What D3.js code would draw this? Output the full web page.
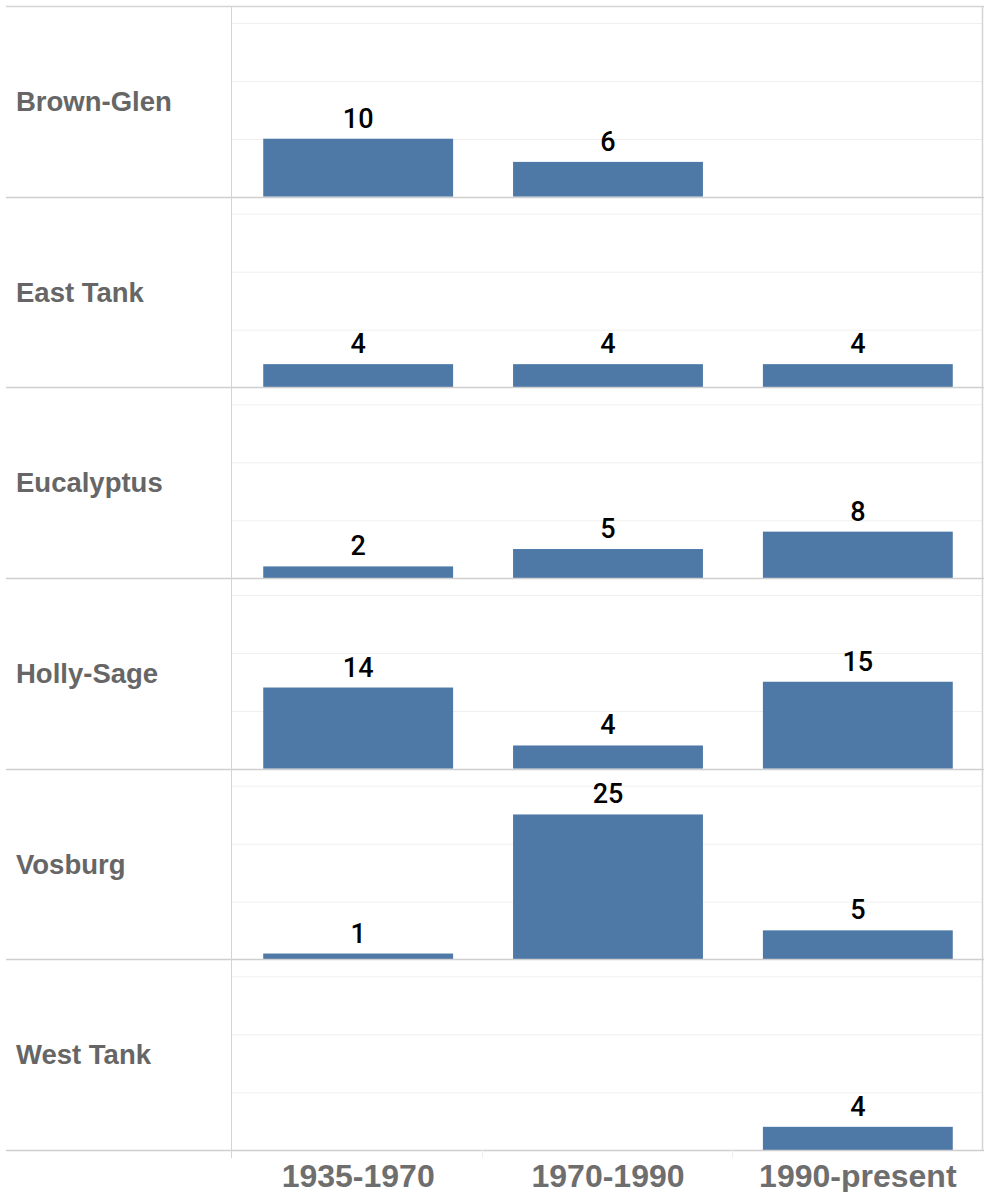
<!DOCTYPE html>
<html>
<head>
<meta charset="utf-8">
<script src="https://cdn.jsdelivr.net/npm/d3@7"></script>
<style>
  html, body { margin: 0; padding: 0; background: #fff; }
  svg { display: block; }
</style>
</head>
<body>
<script>
const regions = ["Brown-Glen", "East Tank", "Eucalyptus", "Holly-Sage", "Vosburg", "West Tank"];
const periods = ["1935-1970", "1970-1990", "1990-present"];
const counts1935 = [10, 4, 2, 14, 1, null];
const counts1970 = [6, 4, 5, 4, 25, null];
const counts1990 = [null, 4, 8, 15, 5, 4];
const gridTicks = [10, 20, 30];

(function () {
const seriesByPeriod = [counts1935, counts1970, counts1990];
const data = [];
regions.forEach((r, i) => {
  periods.forEach((p, j) => {
    const v = seriesByPeriod[j][i];
    if (v != null) data.push({ region: r, period: p, value: v });
  });
});

const W = 984, H = 1192;
const mLeft = 231, mRight = 983, mTop = 6, mBottom = 1150;

const svg = d3.select("body").append("svg").attr("width", W).attr("height", H);

const rowScale = d3.scaleBand().domain(regions).range([mTop, mBottom]);
const x = d3.scaleBand().domain(periods).range([mLeft + 1, mRight + 1]).paddingInner(0.24).paddingOuter(0.125);
const colScale = d3.scaleBand().domain(periods).range([mLeft, mRight]);
const rowH = rowScale.bandwidth();
const y = d3.scaleLinear().domain([0, 32.9]).range([rowH, 0]);

// rows
const rows = svg.selectAll("g.row").data(regions).join("g")
  .attr("class", "row")
  .attr("transform", d => `translate(0,${rowScale(d)})`);

// gridlines
rows.each(function() {
  const g = d3.select(this);
  g.selectAll("line.grid").data(gridTicks).join("line")
    .attr("class", "grid")
    .attr("x1", mLeft).attr("x2", mRight)
    .attr("y1", d => Math.round(y(d)) + 0.5).attr("y2", d => Math.round(y(d)) + 0.5)
    .attr("stroke", "#efefef").attr("stroke-width", 1);
});

// row labels
rows.append("text")
  .attr("x", 16).attr("y", rowH / 2)
  .attr("dy", "0.35em")
  .attr("font-family", "'Liberation Sans', Arial, sans-serif")
  .attr("font-weight", "bold")
  .attr("font-size", 27.5)
  .attr("fill", "#666666")
  .text(d => d);

// bars
const bars = svg.append("g");
bars.selectAll("rect").data(data).join("rect")
  .attr("x", d => x(d.period))
  .attr("width", x.bandwidth())
  .attr("y", d => rowScale(d.region) + y(d.value))
  .attr("height", d => rowH - y(d.value))
  .attr("fill", "#4e79a7");

bars.selectAll("text").data(data).join("text")
  .attr("x", d => x(d.period) + x.bandwidth() / 2)
  .attr("y", d => rowScale(d.region) + y(d.value) - 11)
  .attr("text-anchor", "middle")
  .attr("font-family", "Roboto, 'Liberation Sans', sans-serif")
  .attr("font-weight", 500)
  .attr("font-size", 27)
  .attr("fill", "#000")
  .text(d => d.value);

// row separators (baselines)
svg.append("g").selectAll("line").data(regions).join("line")
  .attr("x1", 6).attr("x2", W)
  .attr("y1", d => Math.round(rowScale(d) + rowH) + 0.5)
  .attr("y2", d => Math.round(rowScale(d) + rowH) + 0.5)
  .attr("stroke", "#cfcfcf").attr("stroke-width", 1.5);

// top border
svg.append("line").attr("x1", 6).attr("x2", W).attr("y1", mTop + 0.5).attr("y2", mTop + 0.5)
  .attr("stroke", "#d4d4d4").attr("stroke-width", 1.5);

// left axis line and right border
svg.append("line").attr("x1", mLeft + 0.5).attr("x2", mLeft + 0.5).attr("y1", mTop).attr("y2", mBottom + 8)
  .attr("stroke", "#d4d4d4").attr("stroke-width", 1);
svg.append("line").attr("x1", mRight - 0.5).attr("x2", mRight - 0.5).attr("y1", mTop).attr("y2", mBottom)
  .attr("stroke", "#d4d4d4").attr("stroke-width", 1.5);

// column separators in axis area
svg.append("g").selectAll("line").data(periods.slice(1)).join("line")
  .attr("x1", d => Math.round(colScale(d)) + 0.5).attr("x2", d => Math.round(colScale(d)) + 0.5)
  .attr("y1", mBottom).attr("y2", mBottom + 8)
  .attr("stroke", "#eeeeee").attr("stroke-width", 1);

// x axis labels
const xAxis = d3.axisBottom(x).tickSize(0).tickPadding(0);
const ax = svg.append("g").attr("transform", `translate(0,${mBottom})`).call(xAxis);
ax.select(".domain").remove();
ax.selectAll("text")
  .attr("y", 36.5).attr("dy", 0)
  .attr("font-family", "'Liberation Sans', Arial, sans-serif")
  .attr("font-weight", "bold")
  .attr("font-size", 32)
  .attr("fill", "#6e6e6e");
})();
</script>
</body>
</html>
